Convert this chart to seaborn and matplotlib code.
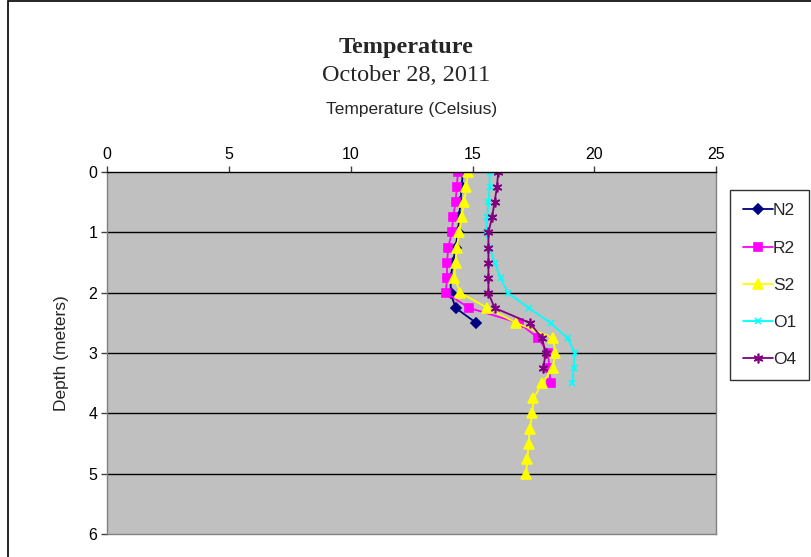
import seaborn as sns
import numpy as np
import pandas as pd
import matplotlib.pyplot as plt
from matplotlib.patches import Rectangle

# depth readings every quarter metre
n2_depth = [0, 0.25, 0.5, 0.75, 1, 1.25, 1.5, 1.75, 2, 2.25, 2.5]
n2_temp = [14.6, 14.55, 14.5, 14.45, 14.4, 14.3, 14.2, 14.1, 14.1, 14.3, 15.15]

r2_depth = [0, 0.25, 0.5, 0.75, 1, 1.25, 1.5, 1.75, 2, 2.25, 2.5, 2.75, 3, 3.25, 3.5]
r2_temp = [14.4, 14.35, 14.3, 14.2, 14.15, 14.0, 13.95, 13.95, 13.9, 14.85, 16.9, 17.7, 18.1, 18.15, 18.2]

s2_depth = [0, 0.25, 0.5, 0.75, 1, 1.25, 1.5, 1.75, 2, 2.25, 2.5, 2.75, 3, 3.25, 3.5,
            3.75, 4, 4.25, 4.5, 4.75, 5]
s2_temp = [14.8, 14.75, 14.65, 14.55, 14.45, 14.35, 14.3, 14.25, 14.5, 15.6, 16.8, 18.3,
           18.4, 18.3, 17.85, 17.5, 17.45, 17.35, 17.3, 17.25, 17.2]

o1_depth = [0, 0.25, 0.5, 0.75, 1, 1.25, 1.5, 1.75, 2, 2.25, 2.5, 2.75, 3, 3.25, 3.5]
o1_temp = [15.7, 15.7, 15.65, 15.6, 15.55, 15.7, 15.9, 16.15, 16.45, 17.3, 18.2, 18.9, 19.2, 19.15, 19.1]

o4_depth = [0, 0.25, 0.5, 0.75, 1, 1.25, 1.5, 1.75, 2, 2.25, 2.5, 2.75, 3, 3.25]
o4_temp = [16.05, 16.0, 15.9, 15.8, 15.65, 15.65, 15.65, 15.65, 15.65, 15.9, 17.35, 17.85, 18.0, 17.9]

sites = ['N2', 'R2', 'S2', 'O1', 'O4']
frames = []
for name, d, t in zip(sites, [n2_depth, r2_depth, s2_depth, o1_depth, o4_depth],
                      [n2_temp, r2_temp, s2_temp, o1_temp, o4_temp]):
    frames.append(pd.DataFrame({'site': name, 'depth': d, 'temp': t}))
df = pd.concat(frames, ignore_index=True)

palette = {'N2': '#000080', 'R2': '#FF00FF', 'S2': '#FFFF00', 'O1': '#00FFFF', 'O4': '#800080'}
markers = {'N2': 'D', 'R2': 's', 'S2': '^', 'O1': 'x', 'O4': (6, 2, 0)}
msizes = {'N2': 5, 'R2': 6, 'S2': 6.5, 'O1': 4.5, 'O4': 7}

sns.set_style('white')
plt.rcParams['font.family'] = ['Liberation Sans', 'DejaVu Sans']

fig = plt.figure(figsize=(8.12, 5.57), dpi=100)
ax = fig.add_axes([0.132, 0.041, 0.750, 0.650])
ax.set_facecolor('#c0c0c0')

for name in sites:
    sub = df[df['site'] == name]
    sns.lineplot(data=sub, x='temp', y='depth', color=palette[name], marker=markers[name],
                 markersize=msizes[name], markeredgecolor=palette[name], markeredgewidth=1.2,
                 linewidth=1.3, sort=False, estimator=None, label=name, ax=ax)

ax.set_xlim(0, 25)
ax.set_ylim(6, 0)
ax.set_xticks(range(0, 26, 5))
ax.set_yticks(range(0, 7))
ax.xaxis.tick_top()
ax.xaxis.set_label_position('top')
ax.tick_params(axis='both', labelsize=11.5, direction='out', length=4, width=1, colors='#404040',
               labelcolor='black', pad=3)
ax.tick_params(axis='x', bottom=False, top=True)
ax.tick_params(axis='y', left=True)
ax.set_xlabel('Temperature (Celsius)', fontsize=12.5, labelpad=24)
ax.set_ylabel('Depth (meters)', fontsize=12.5, labelpad=14)

ax.grid(False)
for d in range(1, 6):
    ax.axhline(d, color='black', lw=1, zorder=0.5)
ax.axhline(0, color='black', lw=1.2, zorder=0.5)
for s in ax.spines.values():
    s.set_color('#808080')
    s.set_linewidth(1)
ax.spines['top'].set_color('black')

handles, labels = ax.get_legend_handles_labels()
leg = ax.legend(handles, labels, loc='upper left', bbox_to_anchor=(1.023, 0.950),
                frameon=True, fancybox=False, edgecolor='black', fontsize=12.5,
                handlelength=1.7, handletextpad=0.0, labelspacing=1.27, borderpad=0.75,
                borderaxespad=0)
leg.get_frame().set_linewidth(1)

fig.text(0.50, 0.905, 'Temperature', ha='center', fontsize=17.5, fontweight='bold',
         family=['Liberation Serif', 'DejaVu Serif'])
fig.text(0.50, 0.855, 'October 28, 2011', ha='center', fontsize=17.5,
         family=['Liberation Serif', 'DejaVu Serif'])

fig.patches.append(Rectangle((0.0099, -0.1), 1.1, 1.0974, transform=fig.transFigure,
                             fill=False, edgecolor='black', lw=1.2))

fig.savefig('out.png', dpi=100)
